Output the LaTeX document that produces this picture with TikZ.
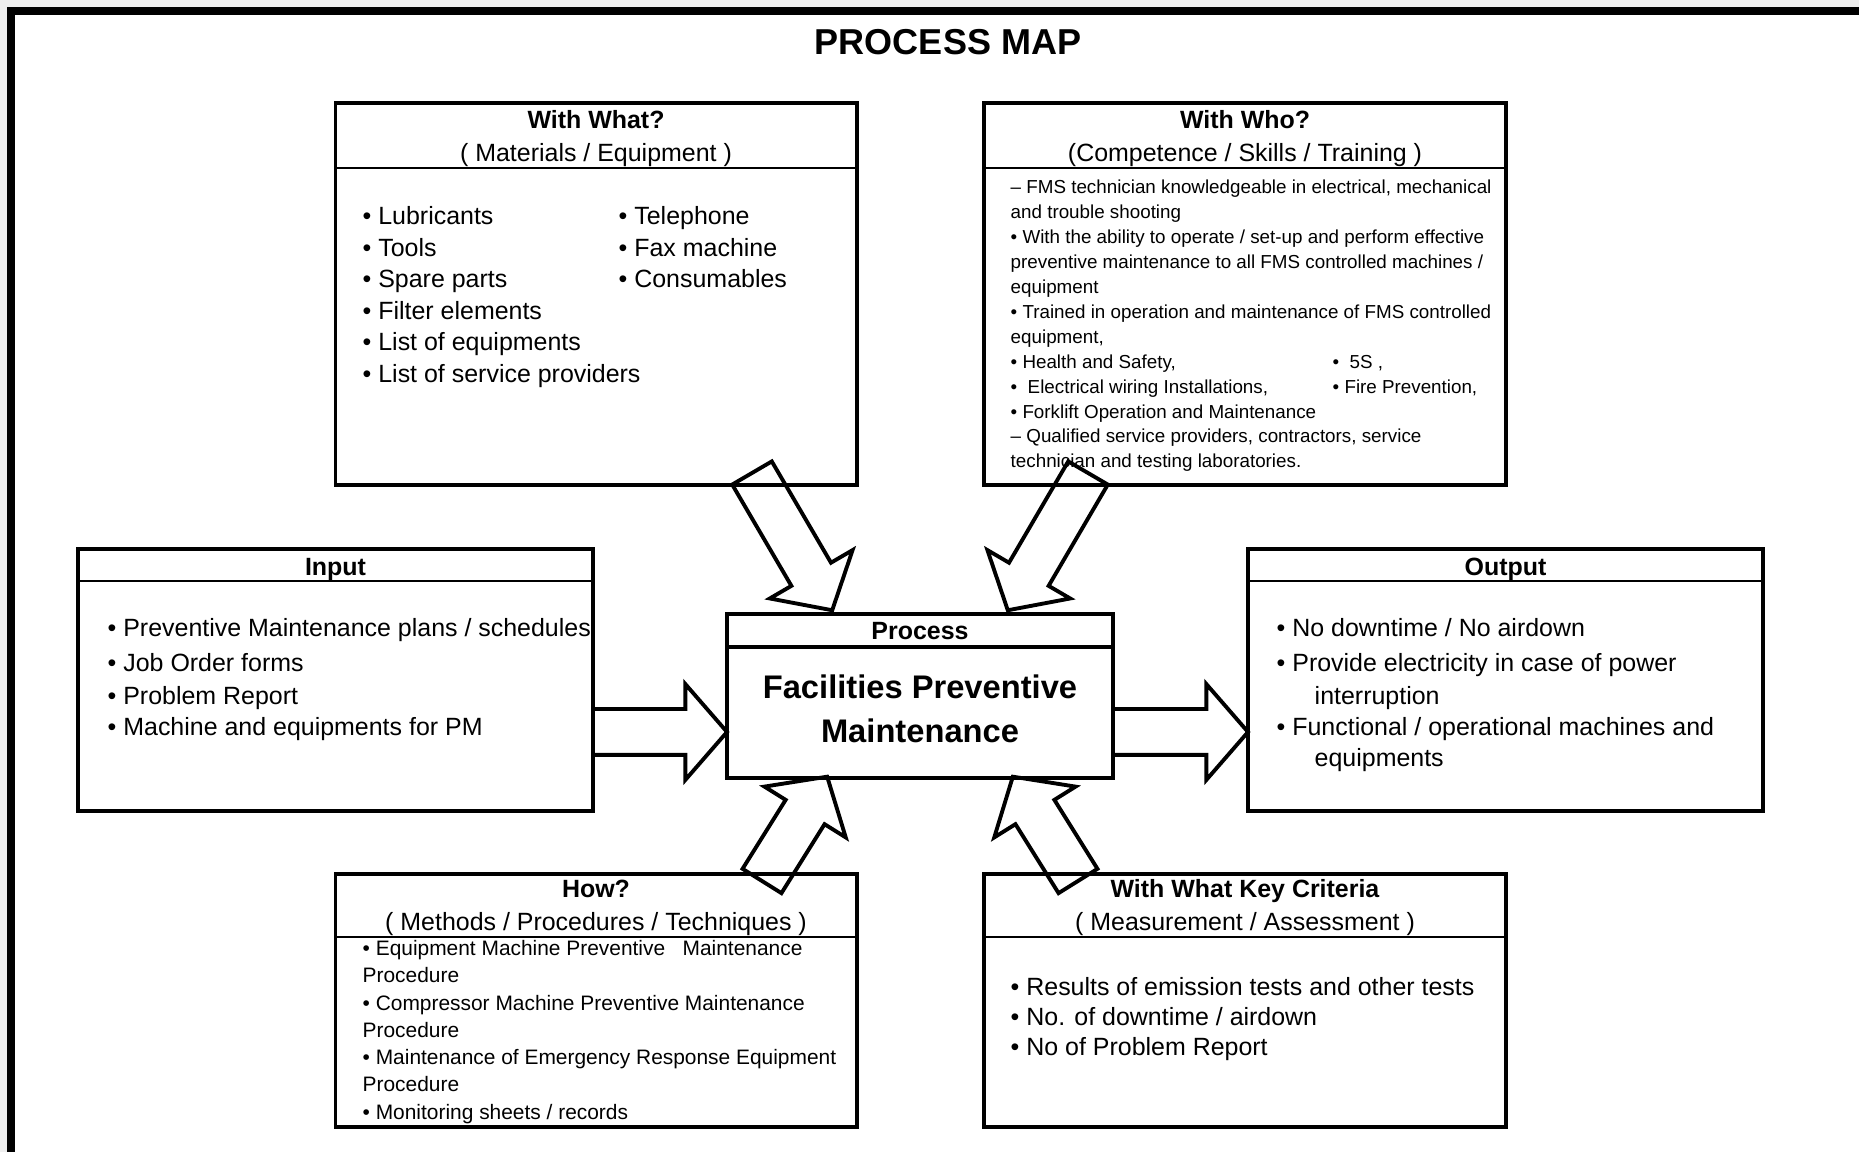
\documentclass[tikz,border=0pt]{standalone}
\usepackage{fontspec}
\setmainfont{Liberation Sans}
\usetikzlibrary{shapes.arrows}
\definecolor{pagegray}{HTML}{EEEEEE}

\begin{document}
\begin{tikzpicture}[
    box/.style={draw, line width=1.1pt, inner sep=0pt, outer sep=0pt},
    divider/.style={line width=0.6pt},
    boxtitle/.style={font=\fontsize{7.1}{8}\selectfont\bfseries, inner sep=0pt, anchor=base},
    boxsub/.style={font=\fontsize{7.1}{8}\selectfont, inner sep=0pt, anchor=base},
    item/.style={font=\fontsize{7.1}{8}\selectfont, inner sep=0pt, anchor=base west},
    whoitem/.style={font=\fontsize{5.35}{6}\selectfont, inner sep=0pt, anchor=base west},
    howitem/.style={font=\fontsize{5.95}{7}\selectfont, inner sep=0pt, anchor=base west},
    bigarrow/.style={single arrow, draw, line width=1.1pt, minimum width=0.92cm,
        single arrow head extend=0.25cm, single arrow tip angle=98,
        inner xsep=0pt, inner ysep=0.21cm, outer sep=0pt, anchor=tail}
]
    \useasboundingbox (0,0) rectangle (18.59,11.52);

    % page edge and frame
    \fill[pagegray] (0,0) rectangle (18.59,11.52);
    \fill[white] (0.07,0) rectangle (18.59,11.45);
    \draw[line width=0.08cm] (0.11,0) -- (0.11,11.41) -- (18.59,11.41);

    \node[font=\fontsize{10.25}{12}\selectfont\bfseries, inner sep=0pt, anchor=base] (title) at (9.48,10.97) {PROCESS MAP};

    % boxes
    \node[box, minimum width=5.215cm, minimum height=3.82cm] (withwhat) at (5.9625,8.58) {};
    \node[box, minimum width=5.22cm, minimum height=3.82cm] (withwho) at (12.45,8.58) {};
    \node[box, minimum width=5.15cm, minimum height=2.62cm] (input) at (3.355,4.72) {};
    \node[box, minimum width=5.15cm, minimum height=2.62cm] (output) at (15.055,4.72) {};
    \node[box, minimum width=3.86cm, minimum height=1.64cm] (process) at (9.20,4.56) {};
    \node[box, minimum width=5.215cm, minimum height=2.53cm] (how) at (5.9625,1.515) {};
    \node[box, minimum width=5.22cm, minimum height=2.53cm] (criteria) at (12.45,1.515) {};

    \draw[divider] (withwhat.west |- 0,9.84) -- (withwhat.east |- 0,9.84);
    \draw[divider] (withwho.west |- 0,9.84) -- (withwho.east |- 0,9.84);
    \draw[divider] (input.west |- 0,5.71) -- (input.east |- 0,5.71);
    \draw[divider] (output.west |- 0,5.71) -- (output.east |- 0,5.71);
    \draw[line width=1.1pt] (process.west |- 0,5.05) -- (process.east |- 0,5.05);
    \draw[divider] (how.west |- 0,2.15) -- (how.east |- 0,2.15);
    \draw[divider] (criteria.west |- 0,2.15) -- (criteria.east |- 0,2.15);

    % With What?
    \node[boxtitle] (wwTitle) at (5.96,10.23) {With What?};
    \node[boxsub] (wwSub) at (5.96,9.90) {( Materials / Equipment )};
    \foreach \t [count=\i] in {Lubricants, Tools, Spare parts, Filter elements, List of equipments, List of service providers}
        \node[item] (wwA\i) at (3.62,{9.585-0.315*\i}) {• \t};
    \foreach \t [count=\i] in {Telephone, Fax machine, Consumables}
        \node[item] (wwB\i) at (6.18,{9.585-0.315*\i}) {• \t};

    % With Who?
    \node[boxtitle] (whoTitle) at (12.45,10.23) {With Who?};
    \node[boxsub] (whoSub) at (12.45,9.90) {(Competence / Skills / Training )};
    \foreach \t [count=\i] in {{– FMS technician knowledgeable in electrical, mechanical},
            {and trouble shooting},
            {• With the ability to operate / set-up and perform effective},
            {preventive maintenance to all FMS controlled machines /},
            {equipment},
            {• Trained in operation and maintenance of FMS controlled},
            {equipment,},
            {• Health and Safety,},
            {•\ \ Electrical wiring Installations,},
            {• Forklift Operation and Maintenance},
            {– Qualified service providers, contractors, service},
            {technician and testing laboratories.}}
        \node[whoitem] (who\i) at (10.10,{9.829-0.249*\i}) {\t};
    \node[whoitem] (whoB8) at (13.32,{9.829-0.249*8}) {•\ \ 5S ,};
    \node[whoitem] (whoB9) at (13.32,{9.829-0.249*9}) {• Fire Prevention,};

    % Input
    \node[boxtitle] (inTitle) at (3.355,5.765) {Input};
    \node[item, fill=white, inner ysep=0.05cm] (in1) at (1.07,5.158) {• Preventive Maintenance plans / schedules};
    \node[item] (in2) at (1.07,4.802) {• Job Order forms};
    \node[item] (in3) at (1.07,4.471) {• Problem Report};
    \node[item] (in4) at (1.07,4.162) {• Machine and equipments for PM};

    % Output
    \node[boxtitle] (outTitle) at (15.055,5.765) {Output};
    \node[item] (out1) at (12.76,5.158) {• No downtime / No airdown};
    \node[item] (out2) at (12.76,4.802) {• Provide electricity in case of power};
    \node[item] (out3) at (13.14,4.471) {interruption};
    \node[item] (out4) at (12.76,4.162) {• Functional / operational machines and};
    \node[item] (out5) at (13.14,3.854) {equipments};

    % Process
    \node[boxtitle] (procTitle) at (9.20,5.12) {Process};
    \node[boxtitle, font=\fontsize{9.3}{11}\selectfont\bfseries] (proc1) at (9.20,4.53) {Facilities Preventive};
    \node[boxtitle, font=\fontsize{9.3}{11}\selectfont\bfseries] (proc2) at (9.20,4.09) {Maintenance};

    % How?
    \node[boxtitle] (howTitle) at (5.96,2.54) {How?};
    \node[boxsub] (howSub) at (5.96,2.21) {( Methods / Procedures / Techniques )};
    \foreach \t [count=\i] in {{• Equipment Machine Preventive \ \ Maintenance}, Procedure,
            {• Compressor Machine Preventive Maintenance}, Procedure,
            {• Maintenance of Emergency Response Equipment}, Procedure,
            {• Monitoring sheets / records}}
        \node[howitem] (how\i) at (3.62,{2.238-0.273*\i}) {\t};

    % With What Key Criteria
    \node[boxtitle] (keyTitle) at (12.45,2.54) {With What Key Criteria};
    \node[boxsub] (keySub) at (12.45,2.21) {( Measurement / Assessment )};
    \foreach \t [count=\i] in {Results of emission tests and other tests, No. of downtime / airdown, No of Problem Report}
        \node[item] (key\i) at (10.10,{1.866-0.30*\i}) {• \t};

    % block arrows
    \node[bigarrow, minimum height=1.34cm] (inArrow) at (input.east |- 0,4.20) {};
    \node[bigarrow, minimum height=1.35cm] (outArrow) at (process.east |- 0,4.20) {};
    \node[bigarrow, minimum height=1.59cm, rotate=-59.7] (whatArrow) at (7.52,6.79) {};
    \node[bigarrow, minimum height=1.59cm, rotate=-120.3] (whoArrow) at (10.88,6.79) {};
    \node[bigarrow, minimum height=1.23cm, rotate=58] (howArrow) at (7.62,2.71) {};
    \node[bigarrow, minimum height=1.23cm, rotate=122] (keyArrow) at (10.78,2.71) {};
\end{tikzpicture}
\end{document}
